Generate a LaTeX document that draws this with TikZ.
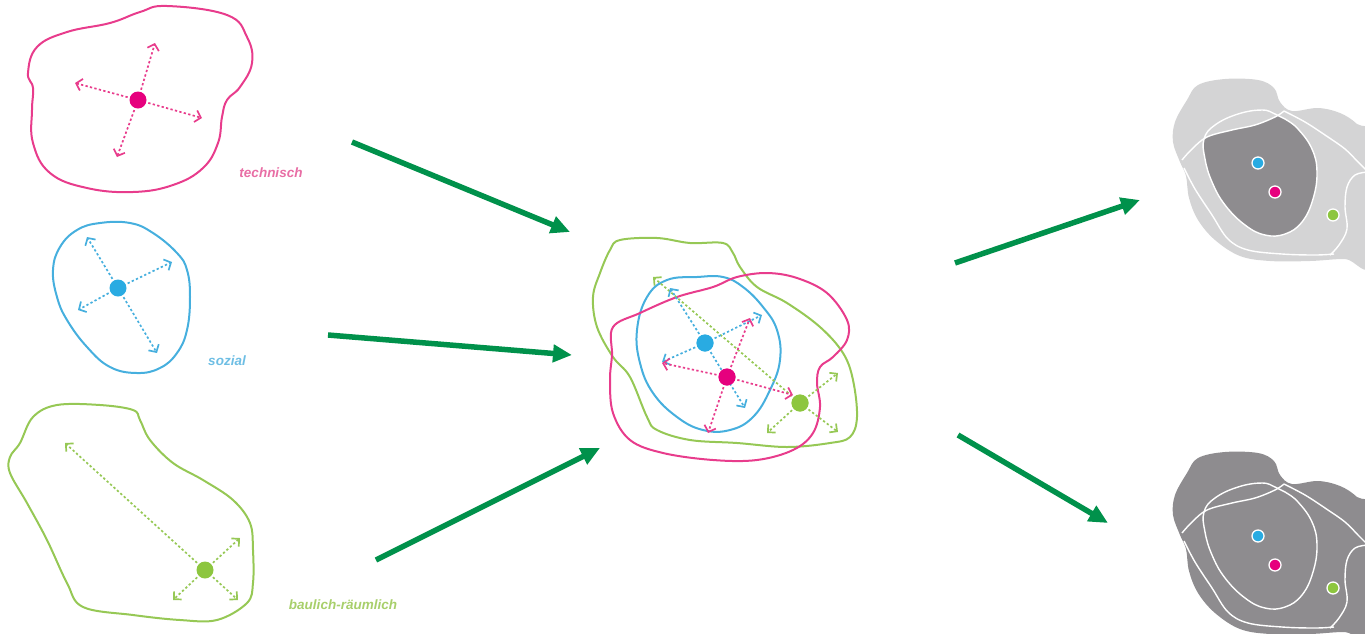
\documentclass[tikz,border=0pt]{standalone}
\usepackage{fontspec}
\newfontfamily\labfont{Liberation Sans}
\usetikzlibrary{arrows.meta}
\definecolor{pkdot}{RGB}{230,0,126}
\definecolor{bldot}{RGB}{41,171,226}
\definecolor{grdot}{RGB}{141,198,63}
\definecolor{pkline}{RGB}{232,60,140}
\definecolor{blline}{RGB}{70,175,222}
\definecolor{grline}{RGB}{150,200,85}
\definecolor{pklab}{RGB}{232,110,165}
\definecolor{bllab}{RGB}{110,190,228}
\definecolor{grlab}{RGB}{168,207,107}
\definecolor{bigarrow}{RGB}{0,145,75}
\definecolor{lgray}{RGB}{212,212,213}
\definecolor{dgray}{RGB}{142,140,143}
\begin{document}
\begin{tikzpicture}[x=1pt,y=-1pt,
  blobline/.style={line width=2pt, line join=round},
  dotnode/.style={circle, inner sep=0pt, minimum size=17pt},
  smalldot/.style={circle, inner sep=0pt, minimum size=12pt, draw=white, line width=1.3pt},
  dotarrow/.style={line width=1.7pt, dash pattern=on 2.3pt off 2.3pt, shorten <=2pt,
    -{Straight Barb[length=5.5pt,width=12pt]}},
  cornerarrow/.style={line width=1.7pt, dash pattern=on 2.3pt off 2.3pt, shorten <=2pt,
    -{Straight Barb[length=5.5pt,width=11pt]}},
  bigarr/.style={draw=bigarrow, line width=5.5pt, -{Triangle[length=19pt,width=17pt]}},
  lab/.style={font=\labfont\bfseries\itshape\fontsize{13.5}{16}\selectfont, inner sep=0pt},
  whiteline/.style={draw=white, line width=1.4pt}
]
\path[use as bounding box] (0,0) rectangle (1365,633);
\clip (0,0) rectangle (1365,633);

% ---------- left: technisch ----------
\draw[blobline, pkline] plot[smooth cycle, tension=0.7] coordinates {
 (167,6) (227,15) (247,37) (252,63) (240,87) (227,100) (222,117) (218,143) (203,168)
 (173,185) (133,192) (87,188) (50,173) (33,143) (32,110) (33,88) (28,73) (37,47)
 (67,32) (110,23) (140,12)};
\node[dotnode, fill=pkdot] (tp) at (138,100) {};
\coordinate (tp1) at (155,43);
\coordinate (tp2) at (75,83);
\coordinate (tp3) at (202,118);
\coordinate (tp4) at (117,157);
\foreach \e in {tp1,tp2,tp3,tp4} \draw[dotarrow, pkline] (tp) -- (\e);
\node[lab, text=pklab] (ltech) at (271,173) {technisch};

% ---------- left: sozial ----------
\draw[blobline, blline] plot[smooth cycle, tension=0.7] coordinates {
 (100,223) (130,223) (153,233) (177,253) (187,270) (190,297) (187,330) (177,353)
 (160,368) (137,373) (110,367) (87,347) (67,320) (57,297) (53,270) (60,247) (77,230)};
\node[dotnode, fill=bldot] (sb) at (118,288) {};
\coordinate (sb1) at (87,237);
\coordinate (sb2) at (172,262);
\coordinate (sb3) at (78,310);
\coordinate (sb4) at (157,353);
\foreach \e in {sb1,sb2,sb3,sb4} \draw[dotarrow, blline] (sb) -- (\e);
\node[lab, text=bllab] (lsoz) at (227,361) {sozial};

% ---------- left: baulich-raeumlich ----------
\draw[blobline, grline] plot[smooth cycle, tension=0.6] coordinates {
 (57,405) (100,405) (133,410) (140,420) (150,440) (173,463) (203,480) (233,500)
 (250,523) (253,550) (253,583) (247,603) (217,620) (180,620) (133,615) (83,607)
 (67,583) (47,540) (27,503) (10,473) (10,457) (20,443) (33,417)};
\node[dotnode, fill=grdot] (bg) at (205,570) {};
\coordinate (bg1) at (65,443);
\coordinate (bg2) at (240,538);
\coordinate (bg3) at (173,600);
\coordinate (bg4) at (238,600);
\foreach \e in {bg1,bg2,bg3,bg4} \draw[cornerarrow, grline] (bg) -- (\e);
\node[lab, text=grlab] (lbau) at (343,605) {baulich-räumlich};

% ---------- centre ----------
\draw[blobline, grline] plot[smooth cycle, tension=0.6] coordinates {
 (620,240) (657,238) (690,243) (723,243) (733,253) (740,267) (757,287) (787,303)
 (820,327) (843,353) (853,380) (857,417) (850,437) (830,443) (787,447) (737,443)
 (690,440) (657,430) (647,417) (630,377) (613,357) (597,327) (593,297) (600,273) (610,250)};
\draw[blobline, blline] plot[smooth cycle, tension=0.7] coordinates {
 (667,280) (697,277) (723,277) (743,287) (763,307) (777,330) (780,360) (770,390)
 (753,417) (730,430) (703,430) (677,417) (653,393) (640,363) (637,330) (647,297)};
\draw[blobline, pkline] plot[smooth cycle, tension=0.6] coordinates {
 (613,327) (640,313) (677,297) (713,287) (737,277) (767,273) (797,278) (827,293)
 (847,320) (847,340) (833,357) (820,367) (817,383) (820,407) (813,433) (793,450)
 (757,460) (713,460) (663,453) (630,440) (613,413) (610,380) (612,355)};
\node[dotnode, fill=bldot] (cb) at (705,343) {};
\node[dotnode, fill=pkdot] (cp) at (727,377) {};
\node[dotnode, fill=grdot] (cg) at (800,403) {};
\coordinate (cg1) at (653,277);
\coordinate (cg2) at (838,373);
\coordinate (cg3) at (767,433);
\coordinate (cg4) at (838,432);
\foreach \e in {cg1,cg2,cg3,cg4} \draw[cornerarrow, grline] (cg) -- (\e);
\coordinate (cb1) at (670,288);
\coordinate (cb2) at (762,315);
\coordinate (cb3) at (662,362);
\coordinate (cb4) at (745,408);
\foreach \e in {cb1,cb2,cb3,cb4} \draw[dotarrow, blline] (cb) -- (\e);
\coordinate (cp1) at (662,363);
\coordinate (cp2) at (750,318);
\coordinate (cp3) at (708,433);
\coordinate (cp4) at (793,395);
\foreach \e in {cp1,cp2,cp3,cp4} \draw[dotarrow, pkline] (cp) -- (\e);
\node[dotnode, fill=bldot] at (cb) {};
\node[dotnode, fill=pkdot] at (cp) {};
\node[dotnode, fill=grdot] at (cg) {};

% ---------- big green arrows ----------
\coordinate (a1s) at (352,142); \coordinate (a1e) at (570,232);
\coordinate (a2s) at (328,335); \coordinate (a2e) at (572,355);
\coordinate (a3s) at (376,560); \coordinate (a3e) at (600,448);
\coordinate (a4s) at (955,263); \coordinate (a4e) at (1140,200);
\coordinate (a5s) at (958,435); \coordinate (a5e) at (1108,523);
\draw[bigarr] (a1s) -- (a1e);
\draw[bigarr] (a2s) -- (a2e);
\draw[bigarr] (a3s) -- (a3e);
\draw[bigarr] (a4s) -- (a4e);
\draw[bigarr] (a5s) -- (a5e);

% ---------- right: grey results ----------
\foreach \dy/\base/\nm in {0/lgray/t, 373/dgray/b}{
 \begin{scope}[shift={(0,\dy)}]
  \fill[\base] plot[smooth cycle, tension=0.6] coordinates {
   (1198,85) (1225,79) (1258,80) (1274,88) (1280,102) (1292,111) (1318,108) (1340,113)
   (1357,124) (1372,142) (1372,262) (1345,259) (1310,261) (1270,261) (1240,256)
   (1215,240) (1198,220) (1189,198) (1186,176) (1180,162) (1173,142) (1175,122) (1187,100)};
  \begin{scope}
   \clip plot[smooth cycle, tension=0.7] coordinates {
    (1204,139) (1215,125) (1238,114) (1262,110) (1275,114) (1285,119) (1298,129)
    (1312,149) (1317,172) (1313,199) (1302,222) (1285,234) (1265,235) (1245,225)
    (1225,205) (1212,182) (1205,159)};
   \fill[dgray] plot[smooth, tension=0.6] coordinates {
    (1182,160) (1192,149) (1207,137) (1232,130) (1255,125) (1275,117) (1284,111)
    (1305,122) (1325,135) (1345,149) (1358,162) (1366,170)} -- (1372,300) -- (1170,300) -- cycle;
  \end{scope}
  \draw[whiteline] plot[smooth cycle, tension=0.7] coordinates {
    (1204,139) (1215,125) (1238,114) (1262,110) (1275,114) (1285,119) (1298,129)
    (1312,149) (1317,172) (1313,199) (1302,222) (1285,234) (1265,235) (1245,225)
    (1225,205) (1212,182) (1205,159)};
  \draw[whiteline] plot[smooth, tension=0.6] coordinates {
    (1182,160) (1192,149) (1207,137) (1232,130) (1255,125) (1275,117) (1284,111)};
  \draw[whiteline] plot[smooth, tension=0.6] coordinates {
    (1284,111) (1305,122) (1325,135) (1345,149) (1358,162) (1366,170)};
  \draw[whiteline] plot[smooth, tension=0.6] coordinates {
    (1184,168) (1195,189) (1212,215) (1228,239) (1248,250) (1282,254) (1315,255) (1334,254)};
  \draw[whiteline] plot[smooth, tension=0.6] coordinates {
    (1368,172) (1355,175) (1347,187) (1345,207) (1347,229) (1339,245) (1330,255)};
  \node[smalldot, fill=bldot] (rb\nm) at (1258,163) {};
  \node[smalldot, fill=pkdot] (rp\nm) at (1275,192) {};
  \node[smalldot, fill=grdot] (rg\nm) at (1333,215) {};
 \end{scope}
}
\end{tikzpicture}
\end{document}
